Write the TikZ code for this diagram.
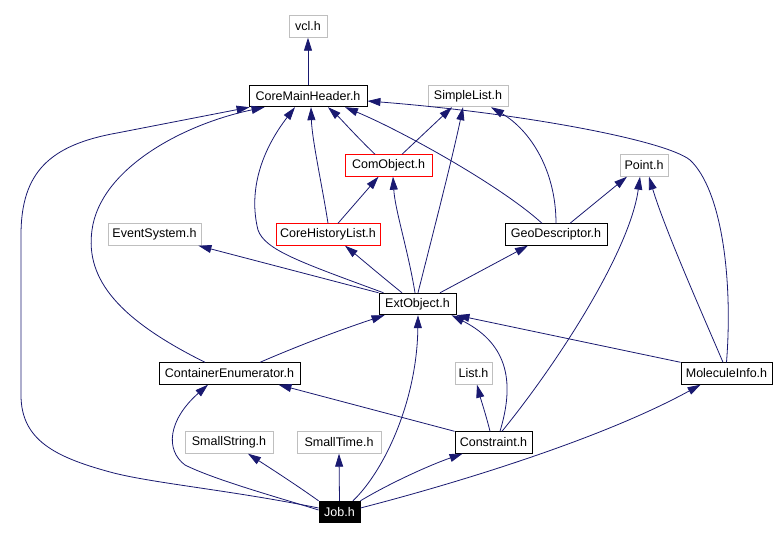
\documentclass[tikz,border=0pt]{standalone}
\usepackage{fontspec}
\setmainfont{Liberation Sans}
\usetikzlibrary{arrows.meta}
\definecolor{edgec}{HTML}{191970}
\definecolor{grayb}{HTML}{BFBFBF}
\tikzset{
  box/.style={draw=black, line width=0.9pt, inner sep=0pt, minimum height=21.5pt, font=\fontsize{12.5}{14}\selectfont},
  graybox/.style={box, draw=grayb},
  redbox/.style={box, draw=red},
  cur/.style={box, fill=black, text=white},
  edge/.style={draw=edgec, line width=0.8pt, -{Triangle[length=13pt,width=8pt]}},
}
\begin{document}
\begin{tikzpicture}[x=1pt, y=-1pt]
\useasboundingbox (0,0) rectangle (777,540);
% nodes
\node[graybox, minimum width=38pt]  (vcl) at (308,26.5) {vcl.h};
\node[box, minimum width=118pt]     (cmh) at (308,96) {CoreMainHeader.h};
\node[graybox, minimum width=80pt]  (sl)  at (468,96) {SimpleList.h};
\node[redbox, minimum width=87pt]   (com) at (388.5,165.5) {ComObject.h};
\node[graybox, minimum width=48pt]  (pt)  at (644,165.5) {Point.h};
\node[graybox, minimum width=93pt]  (es)  at (154.5,234.5) {EventSystem.h};
\node[redbox, minimum width=104pt]  (chl) at (328,234.5) {CoreHistoryList.h};
\node[box, minimum width=102pt]     (geo) at (556,234.5) {GeoDescriptor.h};
\node[box, minimum width=77pt]      (ext) at (417.5,304) {ExtObject.h};
\node[box, minimum width=141pt]     (ce)  at (229.5,373.5) {ContainerEnumerator.h};
\node[graybox, minimum width=37pt]  (lst) at (473.5,373.5) {List.h};
\node[box, minimum width=91pt]      (mi)  at (726.5,373.5) {MoleculeInfo.h};
\node[box, minimum width=77pt]      (con) at (493.5,442.5) {Constraint.h};
\node[graybox, minimum width=88pt]  (ss)  at (229,442.5) {SmallString.h};
\node[graybox, minimum width=84pt]  (st)  at (339,442.5) {SmallTime.h};
\node[cur, minimum width=41pt]      (job) at (339.5,512) {Job.h};
% edges
\draw[edge] (cmh.north) -- (vcl.south);
% Job -> CoreMainHeader
\draw[edge] ([yshift=4pt]job.west) .. controls (230,490) and (150,483) .. (110,472)
  .. controls (55,457) and (21,440) .. (21,395) -- (21,235)
  .. controls (21,172) and (50,145) .. (117,133) -- ([xshift=1pt]cmh.south west);
% ContainerEnumerator -> CoreMainHeader
\draw[edge] ([xshift=-24.5pt]ce.north) .. controls (120,320) and (85,280) .. (92,230)
  .. controls (100,170) and (180,125) .. ([xshift=16pt]cmh.south west);
% ContainerEnumerator -> ExtObject
\draw[edge] ([xshift=30.5pt]ce.north) .. controls (300,345) and (340,330) .. ([xshift=6pt]ext.south west);
% ExtObject -> CoreMainHeader
\draw[edge] ([xshift=5pt]ext.north west) .. controls (300,262) and (265,250) .. (258,230)
  .. controls (248,190) and (262,150) .. ([xshift=-13pt]cmh.south);
% ExtObject -> EventSystem
\draw[edge] (ext.north west) -- ([xshift=-3pt]es.south east);
% CoreHistoryList -> CoreMainHeader
\draw[edge] (chl.north) .. controls (323,190) and (312,140) .. ([xshift=3pt]cmh.south);
% CoreHistoryList -> ComObject
\draw[edge] ([xshift=10pt]chl.north) -- ([xshift=-10pt]com.south);
% ComObject -> CoreMainHeader
\draw[edge] ([xshift=-13.5pt]com.north) .. controls (355,135) and (340,118) .. ([xshift=20pt]cmh.south);
% ComObject -> SimpleList
\draw[edge] ([xshift=13.5pt]com.north) -- ([xshift=-16pt]sl.south);
% ExtObject -> CoreHistoryList
\draw[edge] ([xshift=-15.5pt]ext.north) .. controls (380,275) and (360,258) .. ([xshift=17pt]chl.south);
% ExtObject -> ComObject
\draw[edge] ([xshift=-2.5pt]ext.north) .. controls (408,250) and (395,210) .. ([xshift=4.5pt]com.south);
% ExtObject -> SimpleList
\draw[edge] ([xshift=0.5pt]ext.north) .. controls (430,245) and (452,160) .. ([xshift=-5pt]sl.south);
% GeoDescriptor -> CoreMainHeader
\draw[edge] ([xshift=-14pt]geo.north) .. controls (500,185) and (400,130) .. ([xshift=37pt]cmh.south);
% GeoDescriptor -> SimpleList
\draw[edge] (geo.north) .. controls (556,170) and (530,130) .. ([xshift=23pt]sl.south);
% GeoDescriptor -> Point
\draw[edge] ([xshift=14pt]geo.north) -- ([xshift=-17pt]pt.south);
% ExtObject -> GeoDescriptor
\draw[edge] ([xshift=22.5pt]ext.north) -- ([xshift=-28pt]geo.south);
% MoleculeInfo -> CoreMainHeader
\draw[edge] (mi.north) .. controls (733,280) and (722,190) .. (690,160)
  .. controls (665,140) and (520,113) .. ([yshift=-5pt]cmh.east);
% MoleculeInfo -> Point
\draw[edge] ([xshift=-3.5pt]mi.north) .. controls (705,320) and (665,230) .. ([xshift=5pt]pt.south);
% MoleculeInfo -> ExtObject
\draw[edge] (mi.north west) -- (ext.south east);
% Constraint -> Point
\draw[edge] ([xshift=8.5pt]con.north) .. controls (560,360) and (630,250) .. ([xshift=-4pt]pt.south);
% Constraint -> ExtObject
\draw[edge] ([xshift=6.5pt]con.north) .. controls (514,385) and (510,345) .. ([xshift=-5pt]ext.south east);
% Constraint -> List
\draw[edge] ([xshift=-3.5pt]con.north) .. controls (486,415) and (481,400) .. ([xshift=3.5pt]lst.south);
% Constraint -> ContainerEnumerator
\draw[edge] (con.north west) -- ([xshift=-22pt]ce.south east);
% Job -> Constraint
\draw[edge] (job.north east) .. controls (390,483) and (430,465) .. ([xshift=8pt]con.south west);
% Job -> MoleculeInfo
\draw[edge] ([yshift=4pt]job.east) .. controls (450,485) and (600,440) .. ([xshift=20pt]mi.south west);
% Job -> SmallString
\draw[edge] (job.north west) .. controls (295,484) and (270,468) .. ([xshift=19pt]ss.south);
% Job -> SmallTime
\draw[edge] (job.north) -- (st.south);
% Job -> ExtObject
\draw[edge] ([xshift=13.5pt]job.north) .. controls (385,470) and (417,400) .. ([xshift=0.5pt]ext.south);
% Job -> ContainerEnumerator
\draw[edge] ([yshift=2pt]job.west) .. controls (280,498) and (215,480) .. (185,465)
  .. controls (165,450) and (168,420) .. ([xshift=-21.5pt]ce.south);
\end{tikzpicture}
\end{document}
